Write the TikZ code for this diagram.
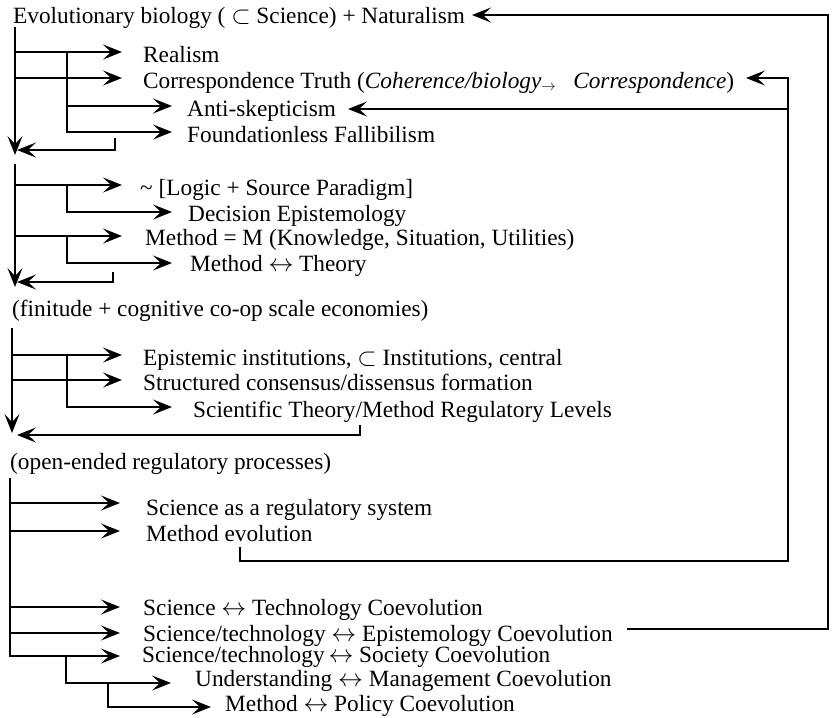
\documentclass[tikz,border=0pt]{standalone}
\usepackage{fontspec}
\setmainfont{Liberation Serif}
\usetikzlibrary{arrows.meta}
\begin{document}
\begin{tikzpicture}[x=1pt,y=-1pt,
 txt/.style={anchor=base west,inner sep=0pt,font=\fontsize{23.3}{27}\selectfont},
 ln/.style={line width=2.3pt,line join=miter},
 arr/.style={ln,-{Stealth[length=19pt,width=15pt,inset=8pt]}},
]
\useasboundingbox (0,0) rectangle (836,718);
% ---------- block 1
\node[txt] (t0) at (13,23) {Evolutionary biology ( $\subset$ Science) + Naturalism};
\node[txt] (t1) at (143,62) {Realism};
\node[txt] (t2) at (143,88) {Correspondence Truth (\textit{Coherence/biology}\raisebox{-2pt}{\fontsize{15}{15}\selectfont$\rightarrow$}\ \ \ \textit{Correspondence})};
\node[txt] (t3) at (187,116) {Anti-skepticism};
\node[txt] (t4) at (187,142) {Foundationless Fallibilism};
\coordinate (a0) at (15,27);  \coordinate (a5) at (15,155);
\coordinate (a1) at (15,52);  \coordinate (a1e) at (122,52);
\coordinate (a2) at (15,78);  \coordinate (a2e) at (122,78);
\coordinate (b1) at (67,52);
\coordinate (b3) at (67,106); \coordinate (b3e) at (172,106);
\coordinate (b4) at (67,132); \coordinate (b4e) at (172,132);
\coordinate (r1a) at (115,138); \coordinate (r1b) at (115,150); \coordinate (r1c) at (17,150);
\draw[arr] (a0) -- (a5);
\draw[arr] (a1) -- (a1e);
\draw[arr] (a2) -- (a2e);
\draw[arr] (b1) -- (b4) -- (b4e);
\draw[arr] (b3) -- (b3e);
\draw[arr] (r1a) -- (r1b) -- (r1c);
% ---------- block 2
\node[txt] (u1) at (140,195) {\textasciitilde{} [Logic + Source Paradigm]};
\node[txt] (u2) at (188,221) {Decision Epistemology};
\node[txt] (u3) at (145,245) {Method = M (Knowledge, Situation, Utilities)};
\node[txt] (u4) at (190,271) {Method $\leftrightarrow$ Theory};
\coordinate (c0) at (15,164); \coordinate (c5) at (15,287);
\coordinate (c1) at (15,185); \coordinate (c1e) at (122,185);
\coordinate (d1) at (67,185); \coordinate (d2) at (67,212); \coordinate (d2e) at (172,212);
\coordinate (c3) at (15,236); \coordinate (c3e) at (122,236);
\coordinate (d3) at (67,236); \coordinate (d4) at (67,263); \coordinate (d4e) at (172,263);
\coordinate (r2a) at (113,272); \coordinate (r2b) at (113,282); \coordinate (r2c) at (17,282);
\draw[arr] (c0) -- (c5);
\draw[arr] (c1) -- (c1e);
\draw[arr] (d1) -- (d2) -- (d2e);
\draw[arr] (c3) -- (c3e);
\draw[arr] (d3) -- (d4) -- (d4e);
\draw[arr] (r2a) -- (r2b) -- (r2c);
% ---------- block 3
\node[txt] (v0) at (12,316) {(finitude + cognitive co-op scale economies)};
\node[txt] (v1) at (143,365) {Epistemic institutions, $\subset$ Institutions, central};
\node[txt] (v2) at (143,390) {Structured consensus/dissensus formation};
\node[txt] (v3) at (193,417) {Scientific Theory/Method Regulatory Levels};
\coordinate (e0) at (12,328); \coordinate (e5) at (12,433);
\coordinate (e1) at (12,355); \coordinate (e1e) at (122,355);
\coordinate (e2) at (12,380); \coordinate (e2e) at (122,380);
\coordinate (f1) at (67,355); \coordinate (f3) at (67,407); \coordinate (f3e) at (172,407);
\coordinate (r3a) at (360,425); \coordinate (r3b) at (360,435); \coordinate (r3c) at (17,435);
\draw[arr] (e0) -- (e5);
\draw[arr] (e1) -- (e1e);
\draw[arr] (e2) -- (e2e);
\draw[arr] (f1) -- (f3) -- (f3e);
\draw[arr] (r3a) -- (r3b) -- (r3c);
% ---------- block 4
\node[txt] (w0) at (10,469) {(open-ended regulatory processes)};
\node[txt] (w1) at (146,515) {Science as a regulatory system};
\node[txt] (w2) at (146,541) {Method evolution};
\node[txt] (w3) at (143,615) {Science $\leftrightarrow$\ Technology Coevolution};
\node[txt] (w4) at (143,641) {Science/technology $\leftrightarrow$ Epistemology Coevolution};
\node[txt] (w5) at (142,662) {Science/technology\,$\leftrightarrow$ Society Coevolution};
\node[txt] (w6) at (195,686) {Understanding $\leftrightarrow$ Management Coevolution};
\node[txt] (w7) at (225,711) {Method $\leftrightarrow$ Policy Coevolution};
\coordinate (g0) at (10,478); \coordinate (g5) at (10,656); \coordinate (g5e) at (120,656);
\coordinate (g1) at (10,503); \coordinate (g1e) at (120,503);
\coordinate (g2) at (10,531); \coordinate (g2e) at (120,531);
\coordinate (g3) at (10,607); \coordinate (g3e) at (120,607);
\coordinate (g4) at (10,633); \coordinate (g4e) at (120,633);
\coordinate (h1) at (66,656); \coordinate (h2) at (66,683); \coordinate (h2e) at (171,683);
\coordinate (h3) at (108,683); \coordinate (h4) at (108,707); \coordinate (h4e) at (211,707);
\draw[arr] (g0) -- (g5) -- (g5e);
\draw[arr] (g1) -- (g1e);
\draw[arr] (g2) -- (g2e);
\draw[arr] (g3) -- (g3e);
\draw[arr] (g4) -- (g4e);
\draw[arr] (h1) -- (h2) -- (h2e);
\draw[arr] (h3) -- (h4) -- (h4e);
% ---------- feedback loops
\coordinate (p0) at (627,629); \coordinate (p1) at (828,629);
\coordinate (p2) at (828,15);  \coordinate (p3) at (472,15);
\draw[arr] (p0) -- (p1) -- (p2) -- (p3);
\coordinate (q0) at (240,547); \coordinate (q1) at (240,561);
\coordinate (q2) at (788,561); \coordinate (q3) at (788,78); \coordinate (q4) at (746,78);
\draw[arr] (q0) -- (q1) -- (q2) -- (q3) -- (q4);
\coordinate (s0) at (788,109); \coordinate (s1) at (348,109);
\draw[arr] (s0) -- (s1);
\end{tikzpicture}
\end{document}
